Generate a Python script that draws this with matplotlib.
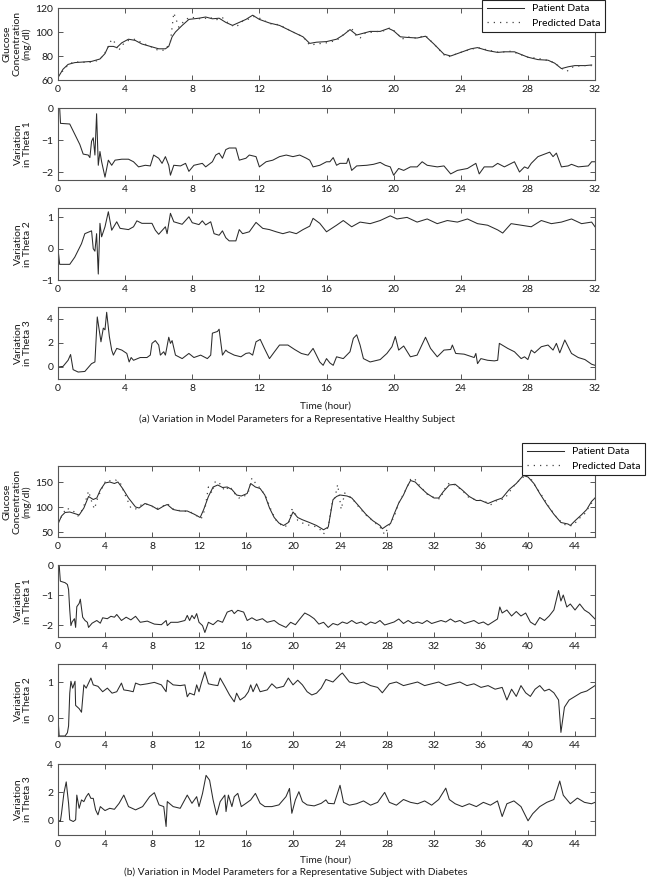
import numpy as np
import matplotlib
matplotlib.use('Agg')
import matplotlib.pyplot as plt

plt.rcParams['font.family'] = ['Lato', 'DejaVu Sans']
plt.rcParams['font.size'] = 7.5

# ---- (a) healthy subject ----
ga_t = [0, 0.3, 0.6, 1, 1.5, 2, 2.5, 2.8, 3, 3.3, 3.5, 3.8, 4.2, 4.6, 5, 5.5, 6, 6.4, 6.6, 6.8, 7, 7.4, 7.8,
        8.4, 8.8, 9.2, 9.6, 10, 10.4, 10.8, 11.2, 11.6, 12, 12.6, 13.2, 14, 14.6, 15, 15.4, 16, 16.6, 17, 17.4,
        17.8, 18.2, 18.6, 19.2, 19.7, 20, 20.4, 20.8, 21.4, 21.9, 22.4, 23, 23.4, 24, 24.6, 25, 25.6, 26.2, 26.6,
        27.2, 28, 28.6, 29.2, 29.6, 30, 30.4, 30.8, 31.4, 31.8]
ga_v = [62, 69, 73, 74.5, 75, 75.5, 77.5, 82, 88, 88, 87, 91, 94, 93, 90, 88, 86, 86, 88, 96, 100, 105.5, 110.5,
        111.5, 112.5, 111, 111.5, 108, 105.5, 108, 110.5, 114, 110.5, 107.5, 105.5, 100, 96, 90.5, 91.5, 92, 94,
        97.5, 102, 97.5, 99, 100.5, 100.5, 103, 101, 96, 95.5, 95, 96.5, 90, 81.5, 80, 83, 86, 87, 84.5, 83, 83.5,
        83.5, 79, 77, 76.5, 74, 69.5, 71, 72, 72, 72.5]
pa_t = [0, 0.5, 0.9, 1.3, 1.8, 2.3, 2.7, 3.0, 3.2, 3.4, 3.6, 3.8, 4.2, 4.6, 5.0, 5.5, 6.0, 6.4, 6.7, 6.9, 7.0,
        7.2, 7.5, 7.8, 8.2, 8.6, 9.0, 9.4, 9.8, 10.0, 10.3, 10.6, 11.0, 11.4, 11.7, 12.1, 12.6, 13.2, 14.0, 14.6,
        15.0, 15.4, 16, 16.6, 17.2, 17.5, 17.8, 18.0, 18.3, 18.8, 19.4, 19.8, 20.2, 20.5, 20.8, 21.3, 21.9, 22.4,
        23.0, 23.2, 23.6, 24.2, 25, 25.6, 26.3, 27, 28, 28.6, 29.3, 29.6, 30, 30.3, 30.7, 31.2, 31.8]
pa_v = [63, 71, 75, 75, 74.5, 76, 80, 88, 94, 91, 84, 89, 93, 94, 91, 88, 84.5, 85, 92, 116, 112, 104, 109, 112,
        112, 110.5, 112.5, 110, 112, 109, 106, 104, 109, 111, 113, 111, 107, 106, 100, 96, 89, 90, 91, 93, 100,
        103, 96, 95, 99, 100, 101, 103.5, 99, 94, 96, 95, 97, 90, 81, 79, 81, 84, 87, 85, 83, 84, 79, 78, 76, 74,
        70, 67, 71, 72, 72]

t1a_t = [0, 0.1, 0.15, 0.7, 1, 1.3, 1.5, 1.8, 1.9, 2.0, 2.1, 2.2, 2.3, 2.4, 2.5, 2.6, 2.8, 3.0, 3.2, 3.4, 3.8,
         4.2, 4.5, 4.8, 5.2, 5.5, 5.7, 6.0, 6.2, 6.4, 6.6, 6.7, 6.9, 7.3, 7.6, 7.8, 8.1, 8.6, 8.8, 9.2, 9.4, 9.6,
         9.8, 10, 10.2, 10.6, 10.8, 11.2, 11.4, 11.8, 12, 12.4, 12.8, 13.2, 13.6, 14, 14.4, 14.8, 15, 15.2, 15.6,
         16, 16.2, 16.4, 16.6, 16.8, 17.2, 17.3, 17.5, 17.8, 18.4, 18.8, 19.2, 19.5, 19.8, 20, 20.3, 20.6, 21,
         21.4, 21.7, 22, 22.6, 23, 23.4, 23.8, 24.4, 24.9, 25.1, 25.4, 25.9, 26.2, 26.6, 27.2, 27.5, 27.8, 28,
         28.2, 28.6, 29, 29.3, 29.5, 29.7, 30, 30.4, 30.6, 31, 31.6, 31.8, 32]
t1a_v = [0, 0, -0.48, -0.5, -0.82, -1.14, -1.44, -1.47, -1.55, -1.04, -0.93, -1.47, -0.18, -1.79, -1.36, -1.68,
         -2.16, -1.63, -1.79, -1.63, -1.6, -1.6, -1.68, -1.84, -1.79, -1.81, -1.47, -1.57, -1.73, -1.52, -1.79,
         -2.1, -1.79, -1.81, -1.73, -1.98, -1.79, -1.73, -1.84, -1.68, -1.47, -1.41, -1.57, -1.30, -1.25, -1.25,
         -1.63, -1.57, -1.47, -1.52, -1.84, -1.68, -1.63, -1.52, -1.47, -1.52, -1.47, -1.57, -1.63, -1.84, -1.79,
         -1.68, -1.68, -1.55, -1.79, -1.73, -1.73, -1.57, -1.95, -1.81, -1.79, -1.76, -1.70, -1.79, -1.84, -2.1,
         -1.89, -1.95, -1.84, -1.84, -1.68, -1.79, -1.84, -1.81, -2.06, -1.95, -1.89, -1.73, -2.06, -1.84, -1.84,
         -1.73, -1.84, -1.68, -2.0, -1.84, -1.89, -1.73, -1.52, -1.44, -1.38, -1.52, -1.41, -1.84, -1.81, -1.76,
         -1.84, -1.81, -1.68, -1.68]

t2a_t = [0, 0.1, 0.7, 1, 1.4, 1.6, 2.0, 2.1, 2.2, 2.3, 2.4, 2.5, 2.6, 2.8, 3.0, 3.2, 3.5, 3.7, 4.2, 4.5, 4.7,
         5.0, 5.6, 5.8, 6.0, 6.4, 6.5, 6.7, 6.9, 7.4, 7.8, 8.0, 8.4, 8.6, 8.8, 9.1, 9.3, 9.6, 9.8, 10, 10.2,
         10.6, 10.8, 11, 11.4, 11.8, 12.2, 12.6, 13, 13.4, 13.8, 14.2, 14.6, 15, 15.2, 15.6, 16, 16.6, 17, 17.5,
         18, 18.6, 19.2, 19.8, 20.2, 20.8, 21.4, 22, 22.6, 23.2, 23.8, 24.4, 25, 25.6, 26.2, 26.5, 27, 27.6,
         28.2, 28.8, 29.4, 30, 30.6, 31.2, 31.8, 32]
t2a_v = [0, -0.5, -0.5, -0.27, 0.16, 0.48, 0.57, 0, -0.08, 0.48, -0.81, 0.81, 0.38, 0.70, 1.18, 0.59, 0.86, 0.65,
         0.61, 0.70, 0.89, 0.81, 0.81, 0.59, 0.46, 0.70, 0.48, 1.13, 0.86, 0.78, 1.02, 0.83, 0.77, 0.89, 0.76,
         0.86, 0.48, 0.43, 0.57, 0.35, 0.25, 0.25, 0.61, 0.48, 0.54, 0.84, 0.65, 0.61, 0.54, 0.48, 0.54, 0.48,
         0.61, 0.72, 0.97, 0.81, 0.54, 0.75, 0.9, 0.7, 0.85, 0.8, 0.9, 1.05, 0.95, 1.0, 0.85, 0.95, 0.8, 0.9,
         0.85, 0.95, 0.8, 0.75, 0.6, 0.5, 0.8, 0.75, 0.7, 0.9, 0.8, 0.85, 0.95, 0.8, 0.85, 0.7]

t3a_t = [0, 0.3, 0.6, 0.75, 0.9, 1.2, 1.6, 2.0, 2.2, 2.34, 2.56, 2.7, 2.8, 2.9, 3.06, 3.2, 3.3, 3.5, 3.8, 4.1,
         4.24, 4.36, 4.5, 4.9, 5.3, 5.5, 5.6, 5.8, 6.0, 6.1, 6.3, 6.4, 6.6, 6.7, 6.8, 7.0, 7.4, 7.8, 8.1, 8.5,
         8.9, 9.1, 9.2, 9.5, 9.6, 9.8, 10, 10.1, 10.5, 10.9, 11.2, 11.4, 11.6, 11.8, 12.05, 12.3, 12.6, 12.9,
         13.2, 13.7, 14.1, 14.5, 14.9, 15.2, 15.4, 15.6, 15.8, 16, 16.2, 16.4, 16.6, 17, 17.4, 17.6, 17.8, 18,
         18.2, 18.6, 19.2, 19.6, 19.9, 20.1, 20.3, 20.6, 21, 21.4, 21.9, 22.2, 22.6, 23, 23.4, 23.5, 23.7, 24.2,
         24.8, 24.9, 25, 25.2, 25.6, 26, 26.2, 26.3, 26.8, 27.2, 27.6, 27.8, 28, 28.2, 28.4, 28.8, 29.2, 29.5,
         29.7, 29.9, 30.2, 30.6, 31, 31.4, 31.8, 32]
t3a_v = [0, 0.05, 0.56, 1.04, -0.22, -0.42, -0.37, 0.28, 0.42, 4.17, 2.1, 3.24, 3.1, 4.56, 2.54, 1.41, 0.99,
         1.55, 1.41, 1.13, 0.42, 0.79, 0.56, 0.79, 0.79, 0.99, 1.97, 2.2, 1.83, 0.99, 1.27, 0.99, 2.48, 1.97,
         2.2, 0.99, 0.7, 1.13, 0.79, 0.99, 0.7, 0.99, 2.82, 2.96, 3.15, 0.99, 1.41, 1.27, 0.99, 0.85, 1.13, 1.18,
         0.99, 2.1, 2.3, 1.55, 0.7, 1.27, 1.83, 1.83, 1.46, 1.13, 0.99, 1.55, 0.99, 0.42, 0.14, 0.7, 0.34, 0.14,
         0.85, 0.7, 1.27, 2.39, 2.68, 1.83, 0.7, 0.42, 0.62, 1.13, 1.69, 2.54, 1.41, 1.75, 0.85, 0.99, 2.48,
         1.55, 0.85, 1.41, 1.46, 1.83, 1.13, 1.07, 0.79, 1.13, 0.28, 0.7, 0.56, 0.51, 0.56, 1.97, 1.55, 1.27,
         0.7, 0.85, 0.62, 1.41, 1.18, 1.69, 1.83, 1.41, 1.97, 1.18, 2.25, 1.13, 0.79, 0.62, 0.23, 0.14]

# ---- (b) subject with diabetes ----
gb_t = [0, 0.3, 0.6, 1.0, 1.4, 1.8, 2.2, 2.6, 3.0, 3.3, 3.6, 4.0, 4.4, 4.8, 5.1, 5.5, 6.0, 6.6, 6.9, 7.4, 8.0,
        8.5, 9.0, 9.3, 9.8, 10.4, 11.0, 11.6, 12.1, 12.4, 12.8, 13.2, 13.6, 14.0, 14.4, 14.8, 15.2, 15.6, 16.1,
        16.4, 16.8, 17.2, 17.6, 18.0, 18.4, 18.8, 19.2, 19.6, 20.0, 20.4, 20.8, 21.4, 22, 22.6, 23, 23.4, 23.7,
        24, 24.6, 25, 25.6, 26.2, 26.8, 27.4, 27.6, 28, 28.3, 28.6, 29.0, 29.4, 29.7, 30, 30.4, 30.8, 31.4, 32,
        32.4, 32.8, 33.3, 33.8, 34.4, 35, 35.6, 36, 36.6, 37.2, 37.8, 38.4, 39, 39.6, 40, 40.5, 41, 41.6, 42.2,
        42.8, 43.4, 43.6, 44, 44.6, 45, 45.4, 45.7]
gb_v = [66, 82, 89, 90, 87, 84, 98, 121, 115, 118, 134, 148, 150, 147, 150, 137, 118, 100, 98, 107, 102, 95,
        102, 105, 95, 92, 92, 85.5, 79, 95, 121, 140, 144, 139, 140, 135, 124, 122, 127, 147, 140, 137, 124, 98,
        79, 68, 63, 69, 90, 79, 74.5, 69, 63, 54.5, 60, 114.5, 121, 124, 122, 118, 102, 85.5, 72.5, 63, 56.5,
        63, 67, 85.5, 108, 124, 140, 153, 150, 140, 127, 118, 118, 131, 144, 145.5, 134, 121, 113, 113, 107,
        113, 118, 135, 147, 163, 160, 147, 127, 105, 85.5, 69, 66, 63, 72.5, 85.5, 95, 111, 118]
pb_t = [0, 0.4, 0.7, 1.0, 1.3, 1.7, 2.0, 2.3, 2.6, 2.9, 3.1, 3.4, 3.8, 4.1, 4.5, 4.9, 5.3, 5.7, 6.2, 6.6, 7.2,
        7.8, 8.3, 8.8, 9.3, 9.8, 10.5, 11.2, 11.7, 12.2, 12.5, 12.8, 13.1, 13.4, 13.8, 14.2, 14.6, 15.0, 15.4,
        15.8, 16.2, 16.5, 16.8, 17.3, 17.7, 18.2, 18.6, 19.2, 19.6, 19.9, 20.1, 20.4, 20.8, 21.3, 21.8, 22.3,
        22.6, 23.0, 23.3, 23.6, 23.8, 24.0, 24.1, 24.4, 25, 25.6, 26.2, 26.8, 27.4, 27.8, 28.2, 28.6, 29.0,
        29.5, 30.0, 30.3, 30.8, 31.4, 32, 32.5, 33.0, 33.3, 33.8, 34.4, 35, 35.6, 36.2, 36.8, 37.4, 38, 38.5,
        39, 39.6, 39.8, 40.2, 40.6, 41.2, 41.8, 42.4, 43, 43.5, 43.9, 44.2, 44.8, 45.3, 45.7]
pb_v = [68, 85, 98, 95, 92, 82, 92, 108, 132, 108, 96, 120, 140, 154, 152, 154, 148, 125, 98, 96, 106, 105, 96,
        100, 107, 96, 92, 91, 84, 77, 95, 140, 128, 152, 146, 132, 142, 128, 118, 120, 130, 158, 148, 135, 120,
        90, 72, 60, 64, 95, 93, 73, 68, 64, 62, 55, 46, 60, 105, 122, 145, 112, 95, 128, 118, 100, 84, 72, 60,
        45, 64, 80, 108, 130, 155, 158, 142, 126, 119, 116, 140, 148, 144, 133, 118, 114, 113, 104, 114, 116,
        133, 148, 160, 166, 158, 143, 122, 100, 80, 66, 62, 64, 74, 86, 104, 118]

t1b_t = [0, 0.1, 0.2, 0.6, 0.8, 0.9, 1.0, 1.1, 1.2, 1.4, 1.5, 1.6, 1.8, 1.9, 2.1, 2.3, 2.5, 2.6, 2.9, 3.3, 3.6,
         3.8, 4.2, 4.5, 4.8, 5.0, 5.4, 5.8, 6.2, 6.6, 7.0, 7.6, 8.2, 8.8, 9.2, 9.3, 9.6, 10.2, 10.8, 11.0, 11.2,
         11.4, 11.6, 11.8, 12.0, 12.3, 12.5, 12.8, 13.2, 13.6, 14.0, 14.4, 14.8, 15.0, 15.3, 15.8, 16.1, 16.5,
         16.9, 17.4, 17.8, 18.4, 18.8, 19.4, 19.8, 20.2, 20.6, 21, 21.4, 21.8, 22.2, 22.6, 23, 23.4, 23.8, 24.2,
         24.6, 25, 25.4, 25.8, 26.2, 26.6, 27, 27.4, 27.8, 28.2, 28.6, 29, 29.4, 29.8, 30.2, 30.6, 31, 31.4,
         31.8, 32.2, 32.6, 33, 33.4, 33.8, 34.2, 34.6, 35, 35.4, 35.8, 36.2, 36.6, 37, 37.4, 37.6, 37.8, 38.2,
         38.6, 39, 39.4, 39.8, 40.2, 40.6, 41, 41.4, 41.8, 42.2, 42.6, 42.8, 43, 43.3, 43.6, 44, 44.4, 44.8,
         45.2, 45.7]
t1b_v = [0, 0, -0.54, -0.59, -0.65, -0.82, -1.5, -2.02, -1.9, -1.79, -2.08, -1.39, -1.28, -1.14, -1.74, -1.85,
         -1.91, -2.08, -1.94, -1.85, -1.94, -1.76, -1.79, -1.71, -1.74, -1.65, -1.85, -1.74, -1.83, -1.71, -1.91,
         -1.87, -1.97, -1.99, -1.85, -2.02, -1.91, -1.91, -1.85, -1.68, -1.85, -1.68, -1.79, -1.62, -1.91, -2.02,
         -2.25, -1.91, -1.99, -1.85, -1.91, -1.57, -1.51, -1.62, -1.51, -1.57, -1.85, -1.76, -1.85, -1.79, -1.91,
         -1.85, -1.97, -2.08, -1.91, -1.99, -1.79, -1.6, -1.68, -1.79, -1.97, -1.91, -2.08, -1.95, -2.0, -1.9,
         -1.95, -1.85, -1.95, -1.9, -2.0, -1.9, -1.95, -1.85, -2.0, -1.95, -1.9, -1.8, -1.95, -1.85, -1.95,
         -1.9, -1.95, -1.85, -1.95, -1.9, -1.85, -1.9, -1.8, -1.9, -1.85, -1.95, -1.9, -1.85, -1.95, -1.9,
         -2.0, -1.9, -1.8, -1.4, -1.6, -1.5, -1.7, -1.55, -1.7, -1.6, -1.9, -2.0, -1.75, -1.85, -1.7, -1.5,
         -0.85, -1.2, -1.0, -1.4, -1.3, -1.5, -1.3, -1.5, -1.6, -1.8]

t2b_t = [0, 0.1, 0.2, 0.6, 0.8, 0.9, 1.0, 1.1, 1.25, 1.45, 1.5, 1.8, 2.0, 2.2, 2.4, 2.8, 3.0, 3.4, 3.8, 4.2,
         4.6, 5.0, 5.4, 5.6, 6.0, 6.4, 6.6, 7.0, 7.6, 8.2, 8.8, 9.2, 9.3, 9.8, 10.4, 10.8, 11.0, 11.2, 11.6,
         11.8, 12.0, 12.2, 12.5, 12.8, 13.2, 13.6, 13.8, 14.2, 14.6, 15.0, 15.2, 15.5, 15.9, 16.2, 16.4, 16.6,
         16.9, 17.2, 17.8, 18.2, 18.6, 19.2, 19.6, 20, 20.4, 20.8, 21.2, 21.6, 22, 22.4, 22.8, 23.4, 24, 24.2,
         24.8, 25.4, 26, 26.6, 27.2, 27.6, 28.2, 28.8, 29.4, 30, 30.6, 31.2, 31.8, 32.4, 33, 33.6, 34.2, 34.8,
         35.4, 36, 36.6, 37.2, 37.8, 38.2, 38.6, 39, 39.4, 39.8, 40.2, 40.6, 41, 41.4, 41.8, 42.2, 42.6, 42.8,
         43.1, 43.5, 44, 44.5, 45, 45.7]
t2b_v = [0, -0.5, -0.5, -0.5, -0.41, -0.22, 0.69, 1.02, 0.83, 1.02, 0.35, 0.26, 0.16, 0.92, 0.83, 1.11, 0.92,
         0.88, 0.73, 0.83, 0.69, 0.73, 0.97, 0.78, 0.76, 0.73, 0.97, 0.92, 0.95, 0.99, 0.92, 0.73, 1.05, 0.92,
         0.9, 0.92, 0.59, 0.69, 0.64, 0.92, 0.73, 0.97, 1.28, 0.95, 0.92, 0.9, 1.11, 0.88, 0.64, 0.45, 0.69, 0.5,
         0.59, 0.73, 0.92, 0.73, 0.95, 0.73, 0.78, 0.95, 0.83, 0.88, 1.11, 0.92, 1.05, 0.92, 0.73, 0.64, 0.69,
         0.83, 1.07, 1.0, 1.2, 1.25, 1.0, 0.95, 1.0, 0.9, 0.85, 0.7, 0.95, 1.0, 0.9, 0.95, 1.0, 0.9, 0.95, 1.0,
         0.9, 0.95, 1.0, 0.9, 0.95, 0.85, 0.9, 0.8, 0.85, 0.5, 0.8, 0.6, 0.9, 0.7, 0.6, 0.8, 0.9, 0.75, 0.8,
         0.7, 0.5, -0.4, 0.3, 0.5, 0.6, 0.7, 0.75, 0.9]

t3b_t = [0, 0.2, 0.3, 0.5, 0.7, 0.9, 1.0, 1.3, 1.5, 1.6, 1.8, 2.0, 2.2, 2.4, 2.6, 2.8, 3.0, 3.2, 3.4, 3.6, 4.0,
         4.4, 4.8, 5.2, 5.6, 6.0, 6.6, 7.2, 7.8, 8.2, 8.6, 9.0, 9.2, 9.3, 9.8, 10.4, 11.0, 11.4, 11.8, 12.0,
         12.3, 12.6, 12.9, 13.2, 13.5, 13.8, 14.2, 14.3, 14.5, 14.8, 15.0, 15.3, 15.6, 16.0, 16.4, 16.8, 17.2,
         17.6, 18.2, 18.8, 19.4, 19.7, 19.9, 20.2, 20.5, 20.8, 21.2, 21.8, 22.4, 22.8, 23, 23.5, 24, 24.3, 24.8,
         25.4, 26, 26.6, 27.2, 27.8, 28.2, 28.8, 29.4, 30, 30.6, 31.2, 31.8, 32.4, 33, 33.3, 33.8, 34.4, 35,
         35.6, 36.2, 36.8, 37.4, 37.8, 38.2, 38.8, 39.4, 40, 40.4, 41, 41.6, 42.2, 42.7, 43, 43.6, 44.2, 44.8,
         45.4, 45.7]
t3b_v = [0.07, -0.05, 0.53, 1.93, 2.74, 1.23, 0.07, -0.05, 0.07, 1.81, 0.88, 1.47, 1.35, 1.7, 1.93, 1.58, 1.58,
         0.77, 0.42, 1.0, 0.72, 0.88, 0.81, 1.23, 1.81, 1.0, 0.77, 1.0, 1.7, 1.98, 1.12, 1.0, -0.4, 1.35, 1.0,
         0.88, 1.81, 1.23, 1.7, 1.0, 1.93, 3.2, 2.86, 1.47, 0.42, 1.35, 1.81, 0.65, 1.81, 1.0, 1.7, 1.93, 1.0,
         1.23, 1.47, 1.93, 1.23, 1.0, 1.0, 1.12, 1.7, 2.28, 0.53, 1.47, 2.05, 1.35, 1.12, 1.05, 1.23, 1.47, 1.23,
         1.2, 2.5, 1.3, 1.1, 1.2, 1.4, 1.1, 1.3, 2.0, 1.3, 1.1, 1.5, 1.3, 1.2, 1.4, 1.1, 1.5, 2.3, 1.5, 1.2, 1.0,
         1.2, 1.0, 1.3, 1.1, 1.4, 0.3, 1.2, 1.4, 1.0, 0.0, 0.5, 1.0, 1.3, 1.5, 2.8, 1.8, 1.2, 1.6, 1.3, 1.2, 1.3]

line_c = '#2b2b2b'
fig = plt.figure(figsize=(6.52, 8.8), dpi=100)

W, H = 652.0, 880.0
def mk_ax(top, bot):
    return fig.add_axes([58 / W, 1 - bot / H, 537 / W, (bot - top) / H])

def style(ax, xmax, ylim, yticks, ylabel, lx):
    ax.set_xlim(0, xmax)
    ax.set_ylim(*ylim)
    ax.set_xticks(np.arange(0, xmax + 0.01, 4))
    ax.set_yticks(yticks)
    ax.tick_params(direction='in', top=True, right=True, length=3.5, width=0.7,
                   color='#555555', labelcolor='#1a1a1a', labelsize=7.5, pad=3.5)
    for s in ax.spines.values():
        s.set_color('#555555')
        s.set_linewidth(0.8)
    ax.set_yticklabels([str(v).replace('-', '\u2212') for v in yticks])
    pos = ax.get_position()
    fig.text(lx / W, pos.y0 + pos.height / 2, ylabel, rotation=90, ha='center', va='center',
             multialignment='center', fontsize=7.5, color='#1a1a1a', linespacing=1.05)

dot_ls = (0, (1, 4))

# panel (a)
ax1 = mk_ax(8, 80)
ax1.plot(ga_t, ga_v, color=line_c, lw=0.75, label='Patient Data')
ax1.plot(pa_t, pa_v, color='#444444', lw=0.9, ls=dot_ls, label='Predicted Data')
style(ax1, 32, (60, 120), [60, 80, 100, 120], 'Glucose\nConcentration\n(mg/dl)', 17)
leg = ax1.legend(loc='upper right', bbox_to_anchor=((605 - 58) / 537, 80 / 72), borderaxespad=0,
                 fancybox=False, edgecolor='#222222', framealpha=1, fontsize=7.5, handlelength=3.6)
leg.get_frame().set_linewidth(0.8)

ax2 = mk_ax(108, 180)
ax2.plot(t1a_t, t1a_v, color=line_c, lw=0.75)
style(ax2, 32, (-2.25, 0), [-2, -1, 0], 'Variation\nin Theta 1', 23)

ax3 = mk_ax(208, 280)
ax3.plot(t2a_t, t2a_v, color=line_c, lw=0.75)
style(ax3, 32, (-1, 1.3), [-1, 0, 1], 'Variation\nin Theta 2', 23)

ax4 = mk_ax(307, 379)
ax4.plot(t3a_t, t3a_v, color=line_c, lw=0.75)
style(ax4, 32, (-1, 5), [0, 2, 4], 'Variation\nin Theta 3', 23)

fig.text(326 / W, 1 - 406 / H, 'Time (hour)', ha='center', va='center', fontsize=7.3, color='#1a1a1a')
fig.text(297 / W, 1 - 419 / H, '(a) Variation in Model Parameters for a Representative Healthy Subject',
         ha='center', va='center', fontsize=7.3, color='#1a1a1a')

# panel (b)
ax5 = mk_ax(466, 537)
ax5.plot(gb_t, gb_v, color=line_c, lw=0.75, label='Patient Data')
ax5.plot(pb_t, pb_v, color='#444444', lw=0.9, ls=dot_ls, label='Predicted Data')
style(ax5, 45.7, (40, 182), [50, 100, 150], 'Glucose\nConcentration\n(mg/dl)', 17)
leg = ax5.legend(loc='upper right', bbox_to_anchor=((645 - 58) / 537, (537 - 443) / 71), borderaxespad=0,
                 fancybox=False, edgecolor='#222222', framealpha=1, fontsize=7.5, handlelength=3.6)
leg.get_frame().set_linewidth(0.8)

ax6 = mk_ax(565, 637)
ax6.plot(t1b_t, t1b_v, color=line_c, lw=0.75)
style(ax6, 45.7, (-2.4, 0), [-2, -1, 0], 'Variation\nin Theta 1', 23)

ax7 = mk_ax(664, 736)
ax7.plot(t2b_t, t2b_v, color=line_c, lw=0.75)
style(ax7, 45.7, (-0.5, 1.5), [0, 1], 'Variation\nin Theta 2', 23)

ax8 = mk_ax(764, 835)
ax8.plot(t3b_t, t3b_v, color=line_c, lw=0.75)
style(ax8, 45.7, (-1, 4), [0, 2, 4], 'Variation\nin Theta 3', 23)

fig.text(326 / W, 1 - 860 / H, 'Time (hour)', ha='center', va='center', fontsize=7.3, color='#1a1a1a')
fig.text(296 / W, 1 - 872 / H, '(b) Variation in Model Parameters for a Representative Subject with Diabetes',
         ha='center', va='center', fontsize=7.3, color='#1a1a1a')

fig.savefig('out.png', dpi=100)
